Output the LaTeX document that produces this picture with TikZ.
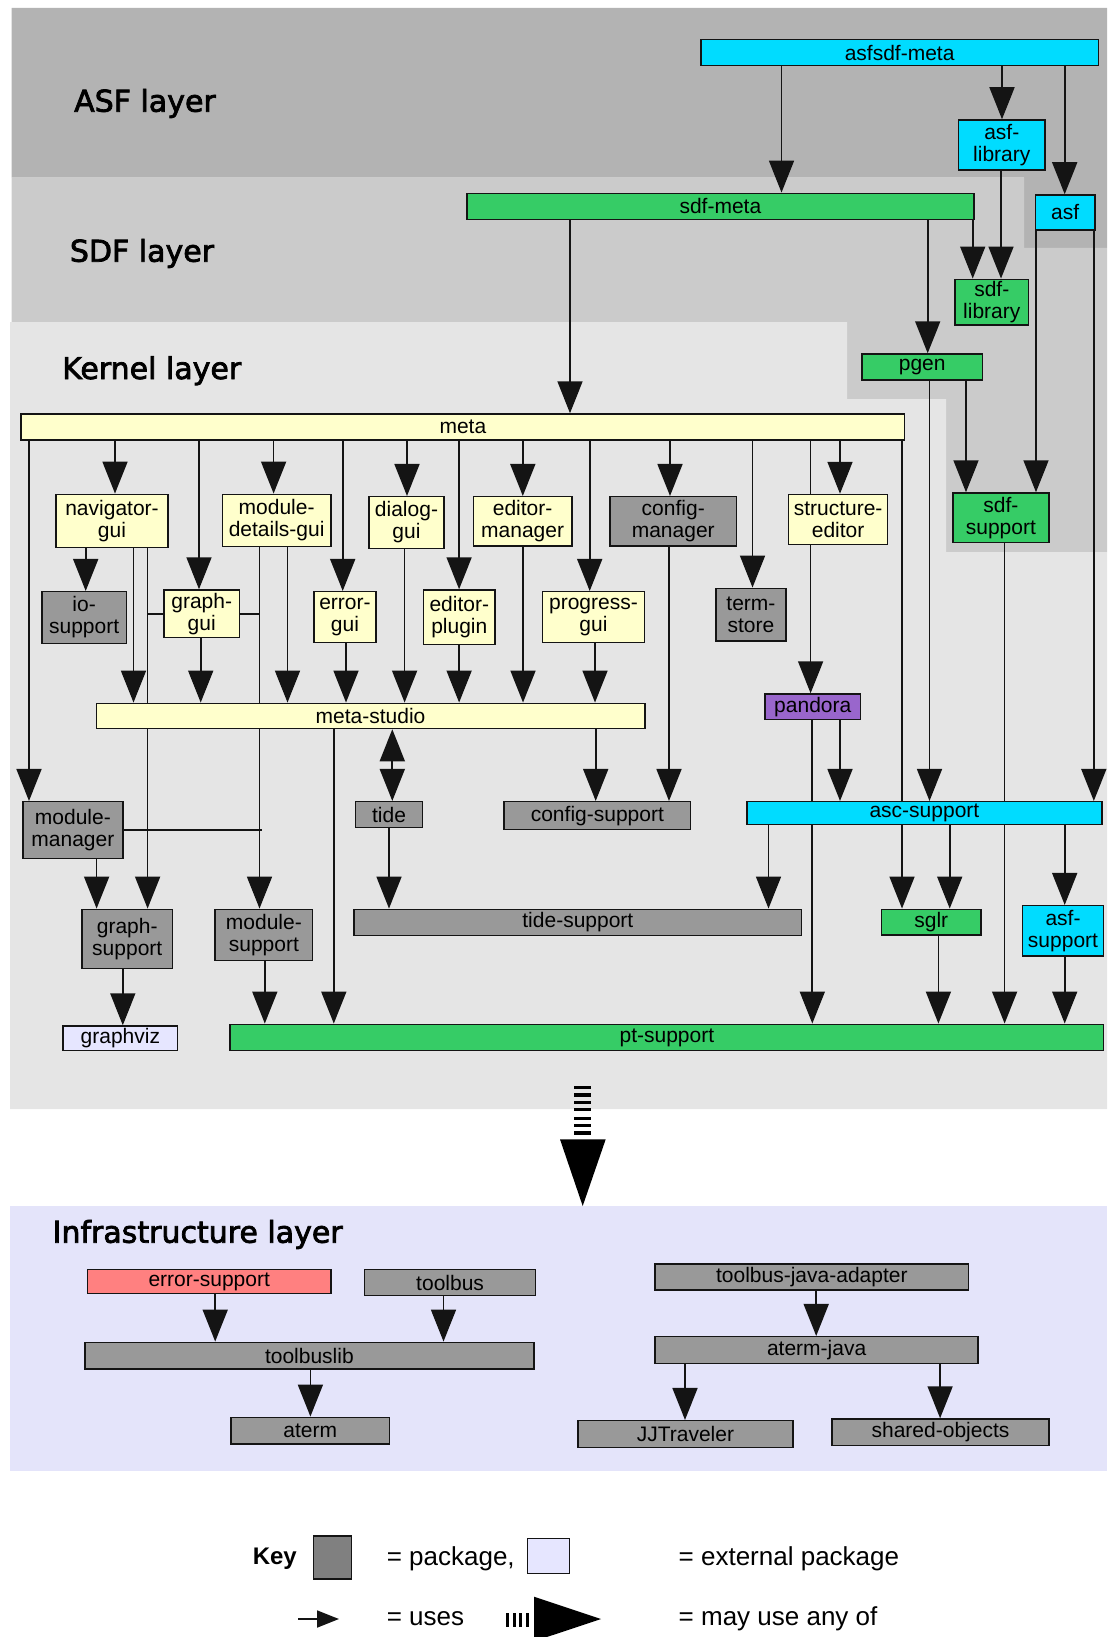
\documentclass[tikz,border=0pt]{standalone}
\usepackage{fontspec}
\setmainfont{Liberation Sans}
\newfontfamily\layerfont[FakeBold=2.5]{DejaVu Sans}
\usetikzlibrary{arrows.meta}

\definecolor{asfband}{RGB}{179,179,179}
\definecolor{sdfband}{RGB}{203,203,203}
\definecolor{kernelband}{RGB}{229,229,229}
\definecolor{infraband}{RGB}{228,228,250}
\definecolor{pkgcyan}{RGB}{0,220,255}
\definecolor{pkggreen}{RGB}{54,204,102}
\definecolor{pkgyellow}{RGB}{255,255,204}
\definecolor{pkggray}{RGB}{153,153,153}
\definecolor{pkgpurple}{RGB}{153,102,204}
\definecolor{pkgred}{RGB}{255,128,128}
\definecolor{pkgext}{RGB}{230,230,255}
\definecolor{keygray}{RGB}{128,128,128}
\definecolor{inkline}{RGB}{20,20,20}

\pgfdeclarelayer{bands}
\pgfdeclarelayer{edges}
\pgfsetlayers{bands,edges,main}

\tikzset{
  pkg/.style={draw=inkline, line width=1.5pt, inner sep=0pt, align=center,
    font=\fontsize{21}{22}\selectfont},
  cyanpkg/.style={fill=pkgcyan},
  greenpkg/.style={fill=pkggreen},
  yellowpkg/.style={fill=pkgyellow},
  graypkg/.style={fill=pkggray},
  purplepkg/.style={fill=pkgpurple},
  redpkg/.style={fill=pkgred},
  extpkg/.style={fill=pkgext},
  bigtip/.tip={Triangle[width=25pt,length=32pt]},
  uses/.style={draw=inkline, line width=1.7pt, -bigtip},
  usesboth/.style={draw=inkline, line width=1.7pt, bigtip-bigtip},
  plainline/.style={draw=inkline, line width=1.7pt},
  layertitle/.style={inner sep=0pt, font=\layerfont\fontsize{30}{36}\selectfont},
  keytext/.style={inner sep=0pt, anchor=west, font=\fontsize{26}{30}\selectfont},
}

% package box given by its corners: name, colour style, x1, y1, x2, y2, label
\newcommand\pkgnode[7]{%
  \pgfmathsetmacro\pkW{#5-#3}\pgfmathsetmacro\pkH{#6-#4}%
  \pgfmathsetmacro\pkX{(#3+#5)/2}\pgfmathsetmacro\pkY{(#4+#6)/2}%
  \node[pkg,#2,minimum width=\pkW pt,minimum height=\pkH pt] (#1) at (\pkX,\pkY) {#7};}

% vertical "uses" connector at a given x, from the bottom of one box to the top of another
\newcommand\usesat[3]{\draw[uses] (#1.south -| #3,0) -- (#2.north -| #3,0);}

\begin{document}
\begin{tikzpicture}[x=1pt,y=-1pt]
\useasboundingbox (0,0) rectangle (1110,1637);

% ---------- layer bands ----------
\begin{pgfonlayer}{bands}
  \fill[asfband] (11.7,8) -- (1107,8) -- (1107,248) -- (1024,248) -- (1024,177.7) -- (11.7,177.7) -- cycle;
  \fill[sdfband] (11.7,177.7) -- (1024,177.7) -- (1024,248) -- (1107,248) -- (1107,552) -- (946,552)
    -- (946,399) -- (847,399) -- (847,322) -- (11.7,322) -- cycle;
  \fill[kernelband] (10,322) -- (847,322) -- (847,399) -- (946,399) -- (946,552) -- (1107,552)
    -- (1107,1109) -- (10,1109) -- cycle;
  \fill[infraband] (10,1206) rectangle (1107,1471);
\end{pgfonlayer}

\node[layertitle, anchor=base west] (asftitle) at (74,111.7) {ASF layer};
\node[layertitle, anchor=base west] (sdftitle) at (69.7,261.7) {SDF layer};
\node[layertitle, anchor=base west] (kerneltitle) at (62,379) {Kernel layer};
\node[layertitle, anchor=base west] (infratitle) at (52.4,1242.7) {Infrastructure layer};

% ---------- ASF and SDF packages ----------
\pkgnode{asfsdfmeta}{cyanpkg}{700.8}{39.3}{1098.4}{65.7}{asfsdf-meta}
\pkgnode{asflib}{cyanpkg}{958.5}{120}{1045}{170}{asf-\\library}
\pkgnode{asf}{cyanpkg}{1035.4}{195}{1094.8}{230}{asf}
\pkgnode{sdfmeta}{greenpkg}{467}{193.3}{973.8}{219.3}{sdf-meta}
\pkgnode{sdflib}{greenpkg}{955}{279.3}{1028.6}{325}{sdf-\\library}
\pkgnode{pgen}{greenpkg}{861.8}{354}{982.6}{380}{pgen}
\pkgnode{sdfsupport}{greenpkg}{953}{493}{1048.8}{542.7}{sdf-\\support}

% ---------- kernel packages ----------
\pkgnode{meta}{yellowpkg}{21.2}{414}{904.5}{440}{meta}
\pkgnode{navgui}{yellowpkg}{55.9}{494.3}{168.1}{547.7}{navigator-\\gui}
\pkgnode{mdgui}{yellowpkg}{222.3}{494.3}{331}{546.7}{module-\\details-gui}
\pkgnode{dialoggui}{yellowpkg}{368.8}{496.7}{444.2}{548.3}{dialog-\\gui}
\pkgnode{edmgr}{yellowpkg}{473.3}{496.7}{572}{546}{editor-\\manager}
\pkgnode{cfgmgr}{graypkg}{609.9}{496.7}{736.6}{546}{config-\\manager}
\pkgnode{structed}{yellowpkg}{788.5}{494.5}{887.7}{544.3}{structure-\\editor}
\pkgnode{iosupport}{graypkg}{41.8}{591.7}{126.4}{643.3}{io-\\support}
\pkgnode{graphgui}{yellowpkg}{163.9}{590}{239.6}{637.7}{graph-\\gui}
\pkgnode{errorgui}{yellowpkg}{314}{591.7}{375.9}{642.7}{error-\\gui}
\pkgnode{edplugin}{yellowpkg}{423.7}{590}{494.9}{644.3}{editor-\\plugin}
\pkgnode{progressgui}{yellowpkg}{542.3}{591.7}{644.6}{642.7}{progress-\\gui}
\pkgnode{termstore}{graypkg}{716}{588.3}{785.8}{641}{term-\\store}
\pkgnode{pandora}{purplepkg}{765}{694}{860.5}{719.5}{pandora}
\pkgnode{metastudio}{yellowpkg}{96.3}{703.3}{644.8}{728.5}{meta-studio}
\pkgnode{modmgr}{graypkg}{23}{801.7}{122.8}{858.3}{module-\\manager}
\pkgnode{tide}{graypkg}{355.7}{801.7}{422.3}{827.3}{tide}
\pkgnode{cfgsupport}{graypkg}{504}{801.7}{690.7}{829.7}{config-support}
\pkgnode{ascsupport}{cyanpkg}{746.9}{801.7}{1101.9}{824.3}{asc-support}
\pkgnode{graphsupport}{graypkg}{82.1}{909.3}{172.4}{968.3}{graph-\\support}
\pkgnode{modsupport}{graypkg}{215.2}{909.3}{312.6}{960.7}{module-\\support}
\pkgnode{tidesupport}{graypkg}{354}{909.3}{801.7}{935.7}{tide-support}
\pkgnode{sglr}{greenpkg}{881.7}{909.3}{980.8}{935}{sglr}
\pkgnode{asfsupport}{cyanpkg}{1022.3}{905.7}{1103.7}{956}{asf-\\support}
\pkgnode{graphviz}{extpkg}{63}{1026}{177.7}{1050.7}{graphviz}
\pkgnode{ptsupport}{greenpkg}{230}{1024.3}{1103.7}{1050.7}{pt-support}

% ---------- infrastructure packages ----------
\pkgnode{errsupport}{redpkg}{87.4}{1269.3}{331}{1293.7}{error-support}
\pkgnode{toolbus}{graypkg}{364.6}{1269.3}{535.6}{1295.7}{toolbus}
\pkgnode{toolbuslib}{graypkg}{85}{1342.3}{533.8}{1369}{toolbuslib}
\pkgnode{aterm}{graypkg}{231.2}{1417.3}{389.4}{1444}{aterm}
\pkgnode{tbjava}{graypkg}{655.2}{1264}{968.5}{1290}{toolbus-java-adapter}
\pkgnode{atermjava}{graypkg}{655.2}{1336.7}{978}{1363.3}{aterm-java}
\pkgnode{jjtrav}{graypkg}{578}{1420.7}{792.9}{1447.3}{JJTraveler}
\pkgnode{sharedobj}{graypkg}{832.2}{1419}{1048.8}{1445.7}{shared-objects}

% ---------- uses connectors ----------
\begin{pgfonlayer}{edges}
  \usesat{asfsdfmeta}{sdfmeta}{781.5}
  \usesat{asfsdfmeta}{asflib}{1002}
  \usesat{asfsdfmeta}{asf}{1064.7}
  \usesat{asflib}{sdflib}{1001}
  \usesat{sdfmeta}{sdflib}{972.7}
  \usesat{sdfmeta}{meta}{570}
  \usesat{sdfmeta}{pgen}{927.7}
  \usesat{asf}{sdfsupport}{1036}
  \usesat{asf}{ascsupport}{1093.8}
  \usesat{pgen}{sdfsupport}{966}
  \usesat{pgen}{ascsupport}{929.5}

  \usesat{meta}{modmgr}{29}
  \usesat{meta}{navgui}{115}
  \usesat{meta}{graphgui}{199}
  \usesat{meta}{mdgui}{273.6}
  \usesat{meta}{errorgui}{342.7}
  \usesat{meta}{dialoggui}{407}
  \usesat{meta}{edplugin}{459.1}
  \usesat{meta}{edmgr}{522.8}
  \usesat{meta}{progressgui}{589.7}
  \usesat{meta}{cfgmgr}{670}
  \usesat{meta}{termstore}{752.5}
  \usesat{meta}{pandora}{810.6}
  \usesat{meta}{structed}{840}
  \usesat{meta}{sglr}{902}

  \usesat{navgui}{iosupport}{85.7}
  \usesat{navgui}{metastudio}{133.5}
  \usesat{navgui}{graphsupport}{147.6}
  \usesat{graphgui}{metastudio}{200.7}
  \usesat{mdgui}{modsupport}{259.5}
  \usesat{mdgui}{metastudio}{287.5}
  \usesat{errorgui}{metastudio}{346}
  \usesat{dialoggui}{metastudio}{404.6}
  \usesat{edplugin}{metastudio}{459.1}
  \usesat{edmgr}{metastudio}{523}
  \usesat{progressgui}{metastudio}{595}
  \usesat{cfgmgr}{cfgsupport}{669}
  \usesat{pandora}{ascsupport}{840}
  \usesat{pandora}{ptsupport}{812.3}
  \draw[usesboth] (metastudio.south -| 392.3,0) -- (tide.north -| 392.3,0);
  \usesat{metastudio}{cfgsupport}{595.7}
  \usesat{metastudio}{ptsupport}{333.8}
  \usesat{modmgr}{graphsupport}{96.6}
  \usesat{graphsupport}{graphviz}{122.8}
  \usesat{modsupport}{ptsupport}{264.8}
  \usesat{tide}{tidesupport}{389}
  \usesat{ascsupport}{tidesupport}{768.5}
  \usesat{ascsupport}{sglr}{949.7}
  \usesat{ascsupport}{asfsupport}{1064.7}
  \usesat{sdfsupport}{ptsupport}{1004.6}
  \usesat{sglr}{ptsupport}{938.4}
  \usesat{asfsupport}{ptsupport}{1064.7}

  % side branches joining the vertical lines
  \draw[plainline] (graphgui.west) -- (graphgui.west -| 147.6,0);
  \draw[plainline] (graphgui.east) -- (graphgui.east -| 259.5,0);
  \draw[plainline] (modmgr.east) -- (modmgr.east -| 262,0);

  \usesat{errsupport}{toolbuslib}{215.2}
  \usesat{toolbus}{toolbuslib}{443.5}
  \usesat{toolbuslib}{aterm}{310.4}
  \usesat{tbjava}{atermjava}{816.2}
  \usesat{atermjava}{jjtrav}{685}
  \usesat{atermjava}{sharedobj}{940.1}
\end{pgfonlayer}

% ---------- "may use any of" arrow from kernel to infrastructure ----------
\foreach \sy in {1086,1093.3,1100.7,1108,1116.7,1124,1131.3}
  \fill[black] (574,\sy) rectangle (591,\sy+3.4);
\fill[black] (560,1139.3) -- (605.7,1139.3) -- (582.7,1206) -- cycle;

% ---------- key ----------
\node[inner sep=0pt, anchor=west, font=\bfseries\fontsize{24}{28}\selectfont] (keylabel) at (252.6,1559) {Key};
\node[draw=inkline, line width=1.5pt, fill=keygray, minimum width=38pt, minimum height=43pt, inner sep=0pt] (keypkg) at (332.5,1557.5) {};
\node[keytext] (keypkgtext) at (386.6,1559) {= package,};
\node[draw=inkline, line width=1.5pt, fill=pkgext, minimum width=42pt, minimum height=35pt, inner sep=0pt] (keyext) at (548.7,1555.8) {};
\node[keytext] (keyexttext) at (678.5,1559) {= external package};

\coordinate (keyusesa) at (298,1619);
\coordinate (keyusesb) at (339,1619);
\draw[draw=inkline, line width=1.7pt, -{Triangle[width=17pt,length=22pt]}] (keyusesa) -- (keyusesb);
\node[keytext] (keyusestext) at (386.6,1619) {= uses};
\foreach \sx in {506,512.5,519,525.5}
  \fill[black] (\sx,1613) rectangle (\sx+3.3,1627);
\fill[black] (534,1596.7) -- (534,1641.3) -- (601,1619) -- cycle;
\node[keytext] (keyanytext) at (678.5,1619) {= may use any of};
\end{tikzpicture}
\end{document}
